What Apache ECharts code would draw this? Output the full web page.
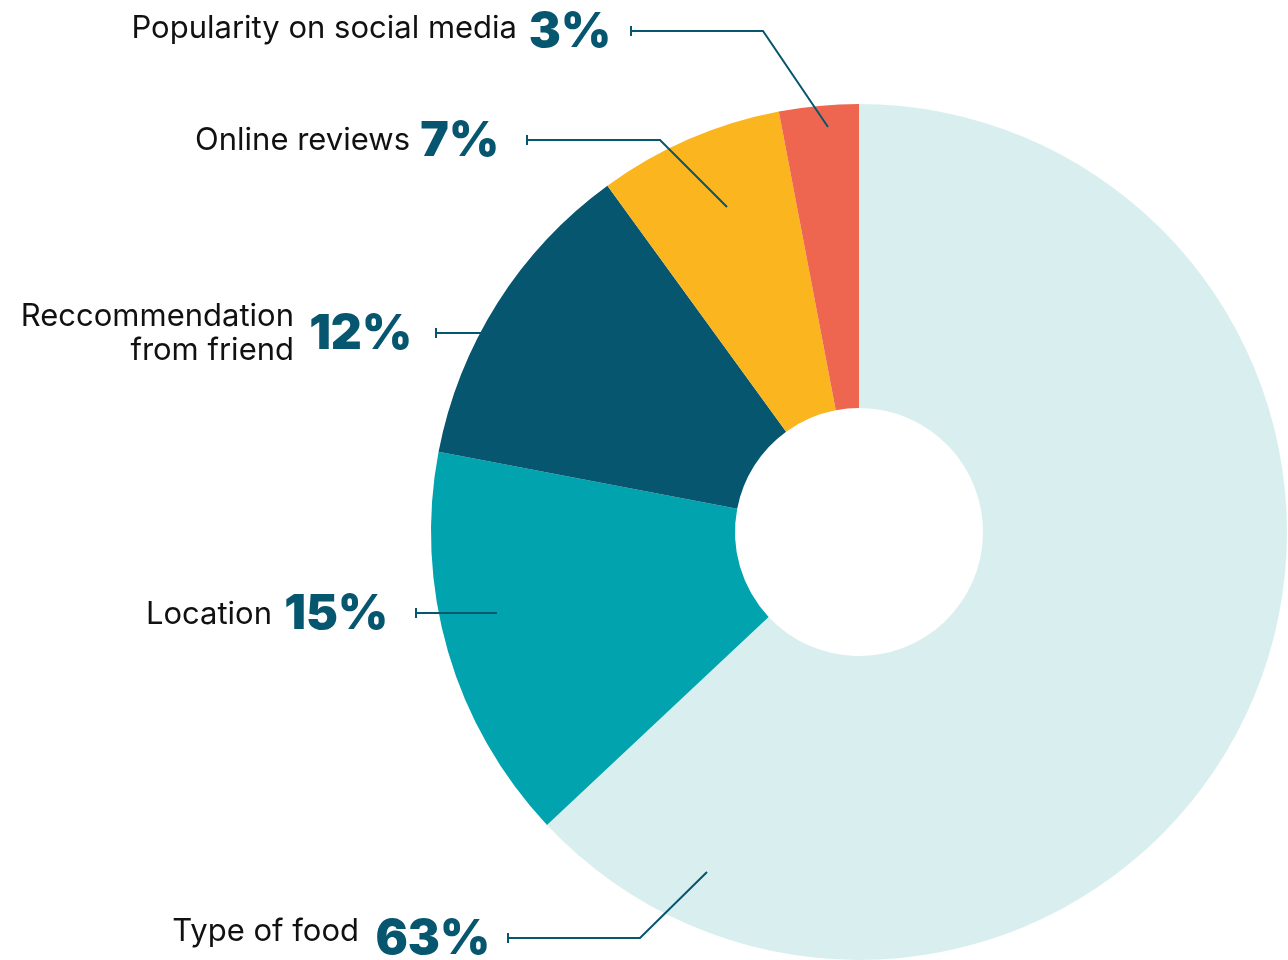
<!DOCTYPE html>
<html>
<head>
<meta charset="utf-8">
<script src="https://cdn.jsdelivr.net/npm/echarts@6/dist/echarts.min.js"></script>
<style>
  html, body { margin: 0; padding: 0; background: #fff; }
  #chart { width: 1288px; height: 960px; }
</style>
</head>
<body>
<div id="chart"></div>
<script>
// data, clockwise from 12 o'clock
const categories = ['Type of food', 'Location', 'Reccommendation\nfrom friend', 'Online reviews', 'Popularity on social media'];
const shares = [63, 15, 12, 7, 3];
const sliceColors = ['#D9EFEF', '#00A3AE', '#05566E', '#FBB51E', '#EF6650'];

// where each label sits (px), and the leader line shape
const spots = [
  { nameX: 359, nameY: 932, pctX: 490, lineY: 938, tickX: 508, bendX: 640, ax: 707, ay: 872 },
  { nameX: 272, nameY: 615, pctX: 388, lineY: 613, tickX: 416, bendX: null, ax: 497, ay: 613 },
  { nameX: 294, nameY: 334, pctX: 412, lineY: 333, tickX: 436, bendX: null, ax: 495, ay: 333 },
  { nameX: 410, nameY: 141, pctX: 499, lineY: 140, tickX: 527, bendX: 660, ax: 727, ay: 207 },
  { nameX: 517, nameY: 29, pctX: 611, lineY: 31, tickX: 631, bendX: 763, ax: 828, ay: 127 }
];

const ink = '#05566E';
const pieCenter = [859, 532];
const pieRadius = [124, 428];

const chart = echarts.init(document.getElementById('chart'));

function basePie(extra) {
  return Object.assign({
    type: 'pie',
    center: pieCenter,
    radius: pieRadius,
    startAngle: 90,
    clockwise: true,
    avoidLabelOverlap: false,
    silent: true
  }, extra);
}

const ghostData = categories.map((c, i) => ({ name: c, value: shares[i] }));

chart.setOption({
  backgroundColor: '#fff',
  animation: false,
  series: [
    // the slices themselves
    basePie({
      z: 1,
      itemStyle: { borderWidth: 0 },
      label: { show: false },
      labelLine: { show: false },
      data: categories.map((c, i) => ({
        name: c,
        value: shares[i],
        itemStyle: { color: sliceColors[i] }
      }))
    }),
    // percentages + leader lines, drawn above the slices
    basePie({
      z: 5,
      itemStyle: { color: 'rgba(0,0,0,0)', borderWidth: 0 },
      label: {
        show: true,
        formatter: '{c}%',
        fontFamily: 'Inter',
        fontSize: 48,
        fontWeight: 900,
        color: ink
      },
      labelLine: {
        show: true,
        lineStyle: { color: ink, width: 2 }
      },
      labelLayout: function (p) {
        const s = spots[p.dataIndex];
        const pts = [
          [s.tickX, s.lineY - 5],
          [s.tickX, s.lineY + 5],
          [s.tickX, s.lineY]
        ];
        if (s.bendX != null) pts.push([s.bendX, s.lineY]);
        pts.push([s.ax, s.ay]);
        return {
          x: s.pctX,
          y: s.lineY + 2,
          align: 'right',
          verticalAlign: 'middle',
          labelLinePoints: pts
        };
      },
      data: ghostData
    }),
    // category names
    basePie({
      z: 5,
      itemStyle: { color: 'rgba(0,0,0,0)', borderWidth: 0 },
      label: {
        show: true,
        formatter: '{b}',
        fontFamily: 'Inter',
        fontSize: 31,
        lineHeight: 34,
        color: '#111',
        align: 'right'
      },
      labelLine: { show: false },
      labelLayout: function (p) {
        const s = spots[p.dataIndex];
        return { x: s.nameX, y: s.nameY, align: 'right', verticalAlign: 'middle' };
      },
      data: ghostData
    })
  ]
});
</script>
</body>
</html>
